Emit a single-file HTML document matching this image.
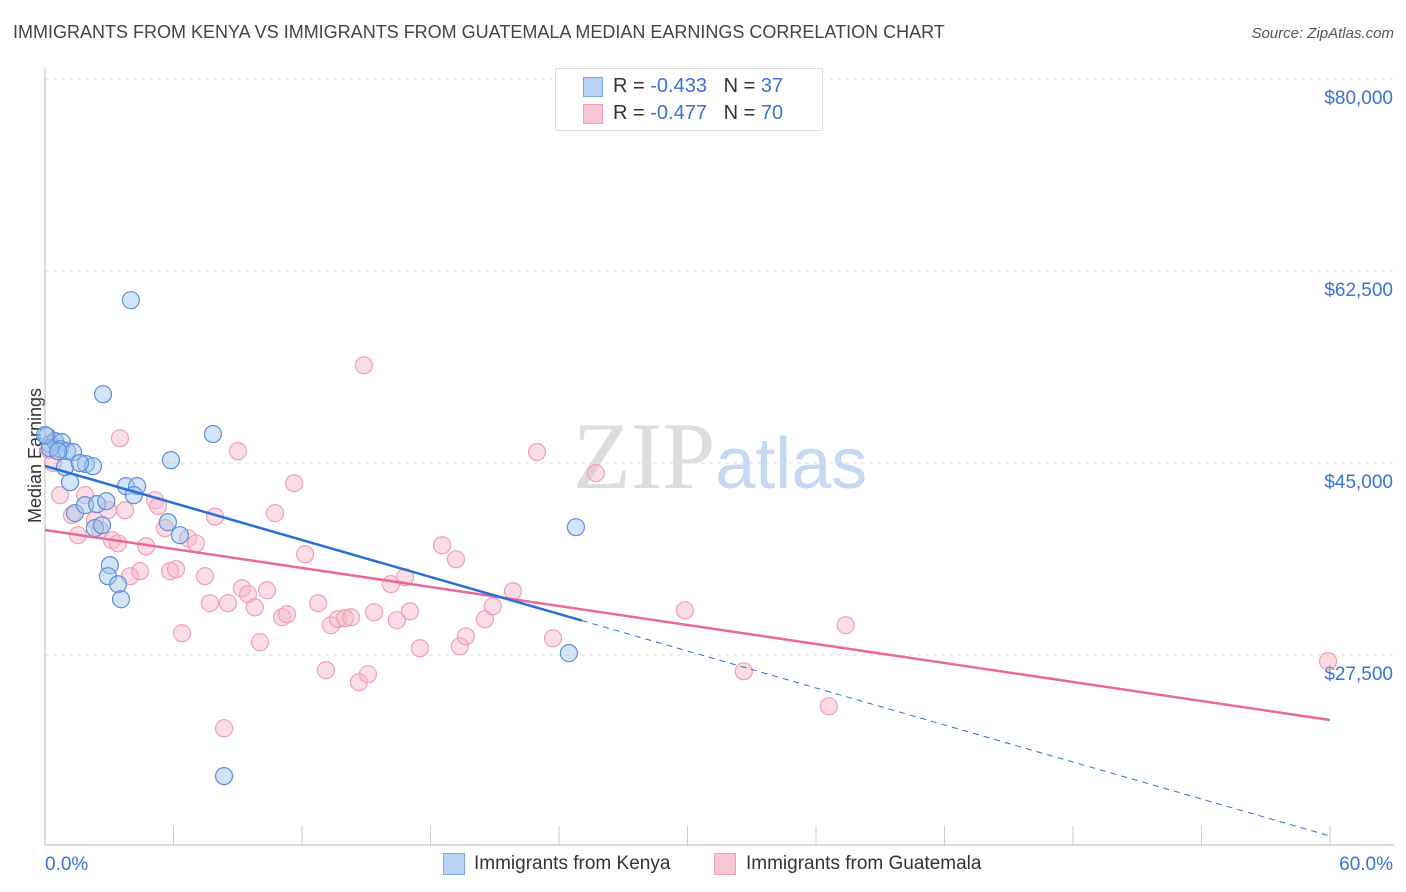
<!DOCTYPE html>
<html><head><meta charset="utf-8">
<style>
body{margin:0;background:#fff;font-family:"Liberation Sans",sans-serif;}
#wrap{position:relative;width:1406px;height:892px;overflow:hidden;}
.t{position:absolute;white-space:nowrap;}
</style></head>
<body>
<div id="wrap">
<div class="t" style="left:13px;top:22px;font-size:18px;color:#444;">IMMIGRANTS FROM KENYA VS IMMIGRANTS FROM GUATEMALA MEDIAN EARNINGS CORRELATION CHART</div>
<div class="t" style="right:12px;top:25px;font-size:15px;color:#555;font-style:italic;">Source: ZipAtlas.com</div>
<div class="t" style="left:-32px;top:445px;font-size:18px;color:#333;transform:rotate(-90deg);">Median Earnings</div>
<svg id="plot" width="1406" height="892" style="position:absolute;left:0;top:0"></svg>
<div style="position:absolute;left:555px;top:68px;width:266px;height:61px;border:1px solid #ddd;background:#fff;">
 <div style="position:absolute;left:27px;top:8px;width:18px;height:18px;background:#b8d3f7;border:1px solid #7aa6e6;"></div>
 <div class="t" style="left:57px;top:6px;font-size:20px;color:#333;">R = <span style="color:#3a73d6">-0.433</span>&nbsp;&nbsp;&nbsp;N = <span style="color:#3a73d6">37</span></div>
 <div style="position:absolute;left:27px;top:35px;width:18px;height:18px;background:#f9c6d4;border:1px solid #eea0b6;"></div>
 <div class="t" style="left:57px;top:33px;font-size:20px;color:#333;">R = <span style="color:#3a73d6">-0.477</span>&nbsp;&nbsp;&nbsp;N = <span style="color:#3a73d6">70</span></div>
</div>
<div style="position:absolute;left:443px;top:853px;">
 <div style="position:absolute;left:0;top:0;width:20px;height:20px;background:#b8d3f7;border:1px solid #7aa6e6;"></div>
 <div class="t" style="left:31px;top:0;font-size:19px;color:#333;">Immigrants from Kenya</div>
</div>
<div style="position:absolute;left:714px;top:853px;">
 <div style="position:absolute;left:0;top:0;width:20px;height:20px;background:#f9c6d4;border:1px solid #eea0b6;"></div>
 <div class="t" style="left:32px;top:0;font-size:19px;color:#333;">Immigrants from Guatemala</div>
</div>
</div>
<script>
const yTicks=[80000,62500,45000,27500];
const yTickLabels=["$80,000","$62,500","$45,000","$27,500"];
const xTickLabels=["0.0%","60.0%"];
const kenyaX=[0.09,0.23,0.47,0.79,0.70,1.03,1.31,0.93,1.17,1.91,2.24,1.40,1.87,2.43,2.86,2.33,2.66,3.03,2.94,3.41,3.55,2.71,4.01,3.78,4.30,4.15,5.88,5.74,6.30,7.84,8.36,24.79,24.46,0.23,0.61,0.00,1.63];
const kenyaY=[47450,46720,46990,46900,46270,46080,45990,44620,43250,44900,44710,40430,41160,41250,41520,39060,39330,35680,34680,33950,32580,51270,59840,42890,42890,42070,45260,39600,38420,47640,16460,39150,27670,46350,46080,47540,44990];
const guatX=[0.19,0.37,0.70,1.26,1.54,1.87,2.33,2.57,2.94,3.13,3.41,3.74,3.97,4.44,4.72,5.14,5.28,5.60,5.84,6.12,6.40,6.68,7.05,7.47,7.70,7.94,8.36,8.54,9.01,9.20,9.48,9.80,10.04,10.37,10.74,11.07,11.30,11.63,12.14,12.75,13.12,13.35,13.68,14.01,14.29,14.66,14.89,15.08,15.36,16.15,16.43,16.81,17.04,17.51,18.54,19.19,19.37,19.65,20.54,20.91,21.85,22.97,23.72,25.72,29.88,32.63,36.60,37.39,59.91,3.50];
const guatY=[46180,44990,42070,40250,38420,42070,39780,38870,40700,37960,37680,40700,34680,35140,37410,41610,41070,39060,35140,35320,29480,38140,37680,34680,32220,40110,20820,32220,46080,33580,33040,31850,28660,33400,40430,30940,31210,43160,36680,32220,26110,30210,30760,30850,30940,25020,53900,25750,31390,33950,30670,34590,31480,28110,37500,36220,28290,29200,30760,31940,33310,46000,29020,44080,31570,26010,22820,30210,26930,47260];
const blueLine=[44726,11000], pinkLine=[38892,21574], blueSolidEnd=25.07;
const X0=45,X1=1330,Y0=79,YS=0.010971;
const sx=v=>X0+(v/60)*(X1-X0);
const sy=v=>Y0+(80000-v)*YS;
const svg=document.getElementById('plot');
const NS='http://www.w3.org/2000/svg';
function mk(tag,at){const e=document.createElementNS(NS,tag);for(const k in at)e.setAttribute(k,at[k]);svg.appendChild(e);return e;}
yTicks.forEach((v,i)=>{
 const g=mk('line',{x1:45,x2:1394,y1:sy(v),y2:sy(v),stroke:'#ddd','stroke-dasharray':'4,4'});
 
 
 const t=mk('text',{x:1393,y:sy(v)+25,'text-anchor':'end','font-size':19,fill:'#3a73d6','font-family':'Liberation Sans,sans-serif'});
 t.textContent=yTickLabels[i];
 
 
});
let a=mk('line',{x1:45,x2:45,y1:68,y2:845,stroke:'#bbb'});


a=mk('line',{x1:45,x2:1394,y1:845,y2:845,stroke:'#bbb'});


for(let i=1;i<=10;i++){const x=X0+i*(X1-X0)/10;const tk=mk('line',{x1:x,x2:x,y1:826,y2:845,stroke:'#ccc'});
 
 }
[[0,45,'start'],[60,1393,'end']].forEach((d,i)=>{const t=mk('text',{x:d[1],y:870,'text-anchor':d[2],'font-size':19,fill:'#3a73d6','font-family':'Liberation Sans,sans-serif'});t.textContent=xTickLabels[i];
 
 });
let w=mk('text',{x:720,y:488,'text-anchor':'middle','font-size':95,fill:'#ddd','font-family':'Liberation Serif,serif'});w.innerHTML='ZIP<tspan fill="#c7d9f2" font-family="Liberation Sans,sans-serif" font-size="72">atlas</tspan>';


guatX.forEach((x,i)=>{const c=mk('circle',{cx:sx(x),cy:sy(guatY[i]),r:8.5,fill:'rgba(248,180,200,0.45)',stroke:'#eea0b6','stroke-width':1.2});
 
 });
kenyaX.forEach((x,i)=>{const c=mk('circle',{cx:sx(x),cy:sy(kenyaY[i]),r:8.5,fill:'rgba(160,196,240,0.45)',stroke:'#5c8fdc','stroke-width':1.2});
 
 });
const bv=x=>blueLine[0]+(blueLine[1]-blueLine[0])*x/60;
let l=mk('line',{x1:sx(0),y1:sy(pinkLine[0]),x2:sx(60),y2:sy(pinkLine[1]),stroke:'#e8699a','stroke-width':2.5});


l=mk('line',{x1:sx(0),y1:sy(bv(0)),x2:sx(blueSolidEnd),y2:sy(bv(blueSolidEnd)),stroke:'#2a6fd6','stroke-width':2.5});


l=mk('line',{x1:sx(blueSolidEnd),y1:sy(bv(blueSolidEnd)),x2:sx(60),y2:sy(bv(60)),stroke:'#2a6fd6','stroke-width':1,'stroke-dasharray':'6,5'});


</script>
</body></html>
